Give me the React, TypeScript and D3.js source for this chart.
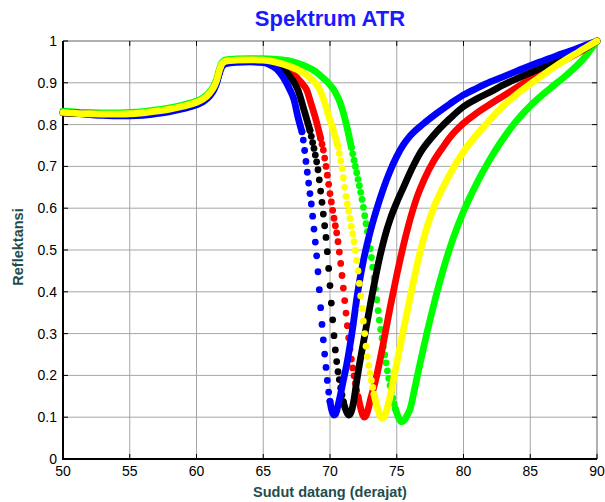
import React from 'react';
import * as d3 from 'd3';

// Axis ticks
const xTicks = [50, 55, 60, 65, 70, 75, 80, 85, 90];
const yTicks = [0, 0.1, 0.2, 0.3, 0.4, 0.5, 0.6, 0.7, 0.8, 0.9, 1];
const yTickLabels = ['0', '0.1', '0.2', '0.3', '0.4', '0.5', '0.6', '0.7', '0.8', '0.9', '1'];

// Blue series: dense band parts and the separated dots on the falling edge
const blueAngle = [50, 51, 52, 53, 54, 55, 56, 57, 58, 59, 60, 60.5, 61, 61.3, 61.5, 61.7, 61.9, 62.2, 63, 64, 65, 65.5, 66, 66.5, 67, 67.3, 67.6, 67.9,
  70.0, 70.1, 70.2, 70.3, 70.4, 70.5, 70.6, 70.75, 71, 71.25, 71.5, 71.75, 72, 72.25, 72.5, 72.75, 73, 73.5, 74, 74.5, 75, 75.5, 76, 77, 78, 79, 80, 81, 82, 83, 84, 85, 86, 87, 88, 89, 90];
const blueRefl = [0.83, 0.828, 0.824, 0.822, 0.821, 0.821, 0.822, 0.826, 0.831, 0.838, 0.847, 0.855, 0.869, 0.883, 0.898, 0.92, 0.938, 0.946, 0.949, 0.95, 0.948, 0.943, 0.933, 0.913, 0.883, 0.86, 0.818, 0.783,
  0.138, 0.121, 0.11, 0.105, 0.107, 0.115, 0.128, 0.149, 0.188, 0.226, 0.272, 0.325, 0.383, 0.432, 0.474, 0.51, 0.542, 0.598, 0.647, 0.689, 0.724, 0.752, 0.773, 0.802, 0.827, 0.85, 0.871, 0.887, 0.902, 0.915, 0.928, 0.941, 0.953, 0.965, 0.976, 0.988, 1.0];
const blueDotAngle = [67.9, 68.0, 68.1, 68.2, 68.3, 68.4, 68.5, 68.6, 68.7, 68.8, 68.9, 69.0, 69.1, 69.2, 69.3, 69.4, 69.5, 69.6, 69.7, 69.8, 69.9, 70.0];
const blueDotRefl = [0.783, 0.763, 0.738, 0.712, 0.686, 0.66, 0.635, 0.61, 0.581, 0.55, 0.519, 0.486, 0.448, 0.405, 0.362, 0.322, 0.285, 0.251, 0.219, 0.188, 0.16, 0.138];

// Black series
const blackAngle = [50, 52, 54, 56, 57, 58, 59, 60, 60.5, 61, 61.3, 61.5, 61.7, 61.9, 62.2, 63, 64, 65, 66, 66.5, 67, 67.6, 68.1, 68.5,
  71.0, 71.1, 71.2, 71.3, 71.4, 71.5, 71.65, 71.8, 72, 72.25, 72.5, 72.75, 73, 73.25, 73.5, 73.75, 74, 74.25, 74.5, 75, 75.5, 76.25, 76.75, 77.75, 79, 80, 81, 82, 82.75, 84, 85.2, 86.5, 87.7, 89, 90];
const blackRefl = [0.828, 0.825, 0.824, 0.827, 0.83, 0.835, 0.842, 0.851, 0.859, 0.873, 0.887, 0.902, 0.925, 0.943, 0.95, 0.952, 0.953, 0.952, 0.943, 0.933, 0.915, 0.883, 0.83, 0.786,
  0.137, 0.125, 0.116, 0.109, 0.105, 0.107, 0.119, 0.143, 0.186, 0.234, 0.278, 0.322, 0.366, 0.409, 0.449, 0.486, 0.519, 0.548, 0.573, 0.614, 0.65, 0.702, 0.732, 0.774, 0.815, 0.843, 0.862, 0.878, 0.891, 0.91, 0.927, 0.945, 0.962, 0.981, 1.0];
const blackDotAngle = [68.5, 68.6, 68.7, 68.8, 68.9, 69.0, 69.1, 69.2, 69.3, 69.4, 69.5, 69.6, 69.7, 69.8, 69.9, 70.0, 70.1, 70.2, 70.3, 70.4, 70.5, 70.6, 70.7, 70.8, 70.9, 71.0];
const blackDotRefl = [0.786, 0.772, 0.757, 0.743, 0.727, 0.711, 0.692, 0.668, 0.641, 0.614, 0.586, 0.558, 0.53, 0.496, 0.456, 0.415, 0.373, 0.333, 0.295, 0.261, 0.233, 0.209, 0.19, 0.17, 0.153, 0.137];

// Red series
const redAngle = [50, 52, 54, 56, 57, 58, 59, 60, 60.5, 61, 61.3, 61.5, 61.7, 61.9, 62.2, 63, 64, 65, 66, 67, 67.5, 68, 68.25, 68.6, 68.88, 69.3,
  72.1, 72.25, 72.4, 72.55, 72.7, 72.85, 73.0, 73.25, 73.5, 74, 74.5, 75, 75.62, 76.5, 77.1, 77.75, 78.5, 79, 80, 81, 82, 82.75, 84, 85.2, 86.5, 87.7, 89, 90];
const redRefl = [0.828, 0.825, 0.824, 0.827, 0.83, 0.835, 0.842, 0.851, 0.859, 0.873, 0.887, 0.902, 0.925, 0.943, 0.95, 0.952, 0.954, 0.953, 0.945, 0.928, 0.913, 0.895, 0.883, 0.848, 0.819, 0.767,
  0.149, 0.128, 0.11, 0.1, 0.104, 0.118, 0.138, 0.168, 0.2, 0.278, 0.362, 0.44, 0.527, 0.625, 0.672, 0.712, 0.748, 0.77, 0.803, 0.828, 0.849, 0.864, 0.889, 0.913, 0.936, 0.957, 0.979, 1.0];
const redDotAngle = [69.3, 69.4, 69.5, 69.6, 69.7, 69.8, 69.9, 70.0, 70.1, 70.2, 70.3, 70.4, 70.5, 70.6, 70.7, 70.8, 70.9, 71.0, 71.1, 71.2, 71.3, 71.4, 71.5, 71.6, 71.7, 71.8, 71.9, 72.0, 72.1];
const redDotRefl = [0.767, 0.753, 0.739, 0.72, 0.7, 0.679, 0.657, 0.635, 0.615, 0.595, 0.576, 0.558, 0.541, 0.52, 0.495, 0.468, 0.439, 0.409, 0.379, 0.349, 0.319, 0.29, 0.263, 0.239, 0.218, 0.199, 0.181, 0.164, 0.149];

// Yellow series
const yellowAngle = [50, 51, 52, 53, 54, 55, 56, 57, 58, 59, 60, 60.5, 61, 61.3, 61.5, 61.7, 61.9, 62.2, 63, 64, 65, 66, 67, 68, 68.5, 69, 69.3, 69.6, 69.87, 70.3, 70.6,
  73.3, 73.5, 73.7, 73.87, 74.05, 74.25, 74.5, 75, 75.5, 76, 76.62, 77.2, 77.75, 78.5, 79, 80, 81, 82, 83, 84, 85, 86, 87, 88, 89, 90];
const yellowRefl = [0.829, 0.827, 0.826, 0.825, 0.825, 0.826, 0.828, 0.832, 0.837, 0.844, 0.853, 0.861, 0.876, 0.89, 0.905, 0.928, 0.945, 0.952, 0.954, 0.955, 0.954, 0.949, 0.939, 0.924, 0.912, 0.896, 0.879, 0.853, 0.824, 0.781, 0.748,
  0.155, 0.128, 0.108, 0.097, 0.1, 0.118, 0.149, 0.229, 0.309, 0.386, 0.478, 0.548, 0.6, 0.652, 0.683, 0.735, 0.776, 0.812, 0.845, 0.873, 0.897, 0.92, 0.942, 0.962, 0.981, 1.0];
const yellowDotAngle = [70.6, 70.7, 70.8, 70.9, 71.0, 71.1, 71.2, 71.3, 71.4, 71.5, 71.6, 71.7, 71.8, 71.9, 72.0, 72.1, 72.2, 72.3, 72.4, 72.5, 72.6, 72.7, 72.8, 72.9, 73.0, 73.1, 73.2, 73.3];
const yellowDotRefl = [0.748, 0.731, 0.713, 0.695, 0.673, 0.65, 0.628, 0.61, 0.593, 0.575, 0.557, 0.539, 0.52, 0.499, 0.475, 0.45, 0.42, 0.39, 0.36, 0.33, 0.3, 0.27, 0.245, 0.224, 0.205, 0.188, 0.171, 0.155];

// Green series
const greenAngle = [50, 51, 52, 53, 54, 55, 56, 57, 58, 59, 60, 60.5, 61, 61.3, 61.5, 61.7, 61.9, 62.2, 63, 64, 65, 66, 67, 68, 69, 69.5, 70, 70.37, 70.75, 71.25, 71.6,
  74.9, 75.12, 75.37, 75.6, 75.8, 76, 76.37, 76.75, 77.25, 77.75, 78.5, 79.25, 80, 81, 82, 82.75, 84, 85.2, 86.5, 87.7, 89, 90];
const greenRefl = [0.832, 0.83, 0.829, 0.828, 0.828, 0.829, 0.831, 0.835, 0.84, 0.847, 0.856, 0.864, 0.879, 0.893, 0.908, 0.931, 0.948, 0.955, 0.957, 0.958, 0.958, 0.956, 0.952, 0.942, 0.925, 0.911, 0.895, 0.879, 0.853, 0.797, 0.745,
  0.12, 0.1, 0.089, 0.094, 0.106, 0.12, 0.173, 0.229, 0.3, 0.366, 0.455, 0.53, 0.592, 0.66, 0.718, 0.756, 0.81, 0.851, 0.887, 0.918, 0.958, 1.0];
const greenDotAngle = [71.6, 71.7, 71.8, 71.9, 72.0, 72.1, 72.2, 72.3, 72.4, 72.5, 72.6, 72.7, 72.8, 72.9, 73.0, 73.1, 73.2, 73.3, 73.4, 73.5, 73.6, 73.7, 73.8, 73.9, 74.0, 74.1, 74.2, 74.3, 74.4, 74.5, 74.6, 74.7, 74.8, 74.9];
const greenDotRefl = [0.745, 0.73, 0.715, 0.7, 0.685, 0.669, 0.654, 0.638, 0.621, 0.602, 0.582, 0.563, 0.544, 0.524, 0.503, 0.482, 0.459, 0.433, 0.407, 0.381, 0.355, 0.332, 0.31, 0.289, 0.269, 0.249, 0.23, 0.211, 0.193, 0.176, 0.16, 0.146, 0.132, 0.12];

// drawing order: yellow ends up on top
const series = [
  { color: '#00ff00', angle: greenAngle, refl: greenRefl, dotAngle: greenDotAngle, dotRefl: greenDotRefl },
  { color: '#ff0000', angle: redAngle, refl: redRefl, dotAngle: redDotAngle, dotRefl: redDotRefl },
  { color: '#000000', angle: blackAngle, refl: blackRefl, dotAngle: blackDotAngle, dotRefl: blackDotRefl },
  { color: '#0000ff', angle: blueAngle, refl: blueRefl, dotAngle: blueDotAngle, dotRefl: blueDotRefl },
  { color: '#ffff00', angle: yellowAngle, refl: yellowRefl, dotAngle: yellowDotAngle, dotRefl: yellowDotRefl },
];

const font = 'Liberation Sans, Arial, Helvetica, sans-serif';

export default function App() {
  const width = 605;
  const height = 502;
  const margin = { top: 41, right: 8, bottom: 43, left: 63 };
  const x0 = margin.left;
  const x1 = width - margin.right;
  const y0 = height - margin.bottom;
  const y1 = margin.top;

  const x = d3.scaleLinear().domain([50, 90]).range([x0, x1]);
  const y = d3.scaleLinear().domain([0, 1]).range([y0, y1]);

  const line = d3
    .line<[number, number]>()
    .x((d) => x(d[0]))
    .y((d) => y(d[1]))
    .curve(d3.curveMonotoneX);

  const gridColor = '#a6a6a6';
  const tickLen = 5;

  return (
    <svg
      width={width}
      height={height}
      style={{ position: 'absolute', left: 0, top: 0, background: '#fff' }}
    >
      <rect x={0} y={0} width={width} height={height} fill="#fff" />

      {/* grid */}
      {xTicks.map((t) => (
        <line key={'gx' + t} x1={x(t)} x2={x(t)} y1={y1} y2={y0} stroke={gridColor} strokeWidth={1} />
      ))}
      {yTicks.map((t) => (
        <line key={'gy' + t} x1={x0} x2={x1} y1={y(t)} y2={y(t)} stroke={gridColor} strokeWidth={1} />
      ))}

      {/* box and inward ticks */}
      <line x1={x0} x2={x1} y1={y1} y2={y1} stroke="#8c8c8c" strokeWidth={1} />
      <line x1={x1} x2={x1} y1={y1} y2={y0} stroke="#8c8c8c" strokeWidth={1} />
      {xTicks.map((t) => (
        <g key={'tx' + t}>
          <line x1={x(t)} x2={x(t)} y1={y0} y2={y0 - tickLen} stroke="#000" />
          <line x1={x(t)} x2={x(t)} y1={y1} y2={y1 + tickLen} stroke="#000" />
        </g>
      ))}
      {yTicks.map((t) => (
        <g key={'ty' + t}>
          <line x1={x0} x2={x0 + tickLen} y1={y(t)} y2={y(t)} stroke="#000" />
          <line x1={x1} x2={x1 - tickLen} y1={y(t)} y2={y(t)} stroke="#000" />
        </g>
      ))}
      <line x1={x0} x2={x0} y1={y1} y2={y0 + 1} stroke="#000" strokeWidth={2} />
      <line x1={x0 - 1} x2={x1} y1={y0} y2={y0} stroke="#000" strokeWidth={2} />

      {/* curves */}
      {series.map((s, i) => {
        const pts: [number, number][] = s.angle.map((a, j) => [a, s.refl[j]]);
        const dStart = s.dotAngle[0];
        const dEnd = s.dotAngle[s.dotAngle.length - 1];
        const pre = pts.filter((p) => p[0] <= dStart);
        const post = pts.filter((p) => p[0] >= dEnd);
        return (
          <g key={'s' + i}>
            <path d={line(pre) || ''} fill="none" stroke={s.color} strokeWidth={6.8} strokeLinecap="round" strokeLinejoin="round" />
            <path d={line(post) || ''} fill="none" stroke={s.color} strokeWidth={6.8} strokeLinecap="round" strokeLinejoin="round" />
            {s.dotAngle.map((a, j) => (
              <circle key={j} cx={x(a)} cy={y(s.dotRefl[j])} r={3.4} fill={s.color} />
            ))}
          </g>
        );
      })}

      {/* tick labels */}
      {xTicks.map((t) => (
        <text key={'lx' + t} x={x(t)} y={y0 + 17} textAnchor="middle" fontFamily={font} fontSize={14} fill="#000">
          {t}
        </text>
      ))}
      {yTicks.map((t, i) => (
        <text key={'ly' + t} x={x0 - 6} y={y(t) + 5} textAnchor="end" fontFamily={font} fontSize={14} fill="#000">
          {yTickLabels[i]}
        </text>
      ))}

      {/* title and axis labels */}
      <text x={(x0 + x1) / 2} y={26} textAnchor="middle" fontFamily={font} fontSize={22} fontWeight="bold" fill="#1a1aff">
        Spektrum ATR
      </text>
      <text x={(x0 + x1) / 2} y={497} textAnchor="middle" fontFamily={font} fontSize={14.5} fontWeight="bold" fill="#1e4d4d">
        Sudut datang (derajat)
      </text>
      <text
        transform={`translate(23, ${(y0 + y1) / 2 - 3}) rotate(-90)`}
        textAnchor="middle"
        fontFamily={font}
        fontSize={14.5}
        fontWeight="bold"
        fill="#1e4d4d"
      >
        Reflektansi
      </text>
    </svg>
  );
}
